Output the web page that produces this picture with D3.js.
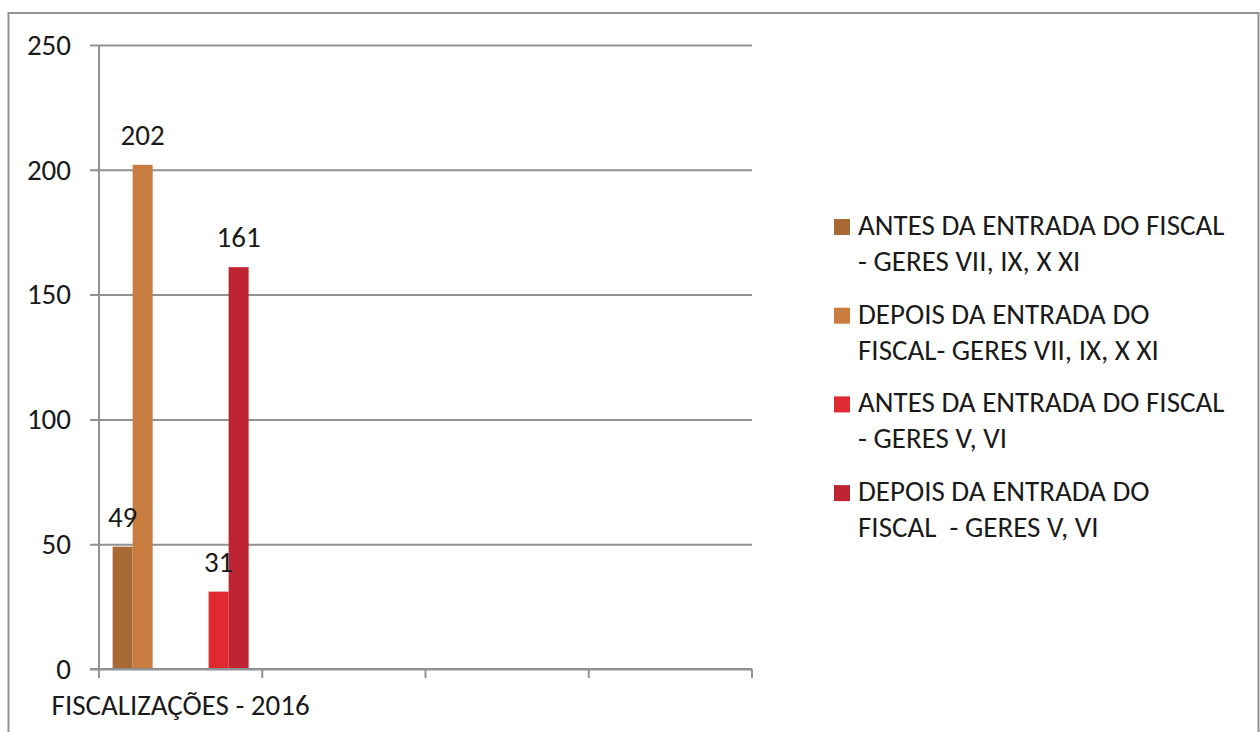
<!DOCTYPE html>
<html>
<head>
<meta charset="utf-8">
<script src="https://cdn.jsdelivr.net/npm/d3@7"></script>
<style>
    body { margin: 0; background: #fff; }
    text { font-family: Carlito, Calibri, "Liberation Sans", sans-serif; fill: #1a1a1a; }
</style>
</head>
<body>
<div id="chart-area"></div>
<script>

// Data
var categories = ["FISCALIZAÇÕES - 2016", "", "", ""];
var regions = ["GERES VII, IX, X XI", "GERES V, VI"];
var phases = ["ANTES", "DEPOIS"];
var seriesNames = [
    "ANTES DA ENTRADA DO FISCAL - GERES VII, IX, X XI",
    "DEPOIS DA ENTRADA DO FISCAL- GERES VII, IX, X XI",
    "ANTES DA ENTRADA DO FISCAL - GERES V, VI",
    "DEPOIS DA ENTRADA DO FISCAL  - GERES V, VI"
];
var seriesRegion = [0, 0, 1, 1];
var seriesPhase = [0, 1, 0, 1];
var seriesValues = [49, 202, 31, 161];   // only the first category has data
var seriesColors = ["#a86a34", "#c97c3f", "#df2a31", "#bf2433"];
var yTicks = [0, 50, 100, 150, 200, 250];


/*
 * BarChart - Object constructor function
 */
BarChart = function(_parentElement){
    this.parentElement = _parentElement;
    this.initVis();
}

BarChart.prototype.initVis = function(){
    var vis = this;

    vis.width = 1260;
    vis.height = 732;
    vis.plot = { left: 99, right: 752, top: 45, bottom: 669 };
    vis.gridColor = "#909193";
    vis.fontSize = 29;

    vis.svg = d3.select("#" + vis.parentElement).append("svg")
        .attr("width", vis.width)
        .attr("height", vis.height);

    // outer chart frame (runs off the bottom of the picture)
    vis.svg.append("rect")
        .attr("x", 8.5).attr("y", 13)
        .attr("width", 1250).attr("height", 800)
        .attr("fill", "none")
        .attr("stroke", "#939393")
        .attr("stroke-width", 2);

    // scales
    vis.y = d3.scaleLinear()
        .domain([0, 250])
        .range([vis.plot.bottom, vis.plot.top]);

    vis.x = d3.scaleBand()
        .domain(d3.range(categories.length))
        .range([vis.plot.left, vis.plot.right])
        .padding(0);

    vis.xRegion = d3.scaleBand()
        .domain(d3.range(regions.length))
        .range([0, vis.x.bandwidth()])
        .paddingInner(0.583)
        .paddingOuter(0.142);

    vis.xPhase = d3.scaleBand()
        .domain(d3.range(phases.length))
        .range([0, vis.xRegion.bandwidth()])
        .padding(0);

    vis.wrangleData();
}

BarChart.prototype.wrangleData = function(){
    var vis = this;

    vis.bars = seriesValues.map(function(v, i){
        return { cat: 0, value: v, region: seriesRegion[i], phase: seriesPhase[i], color: seriesColors[i] };
    });

    vis.updateVis();
}

BarChart.prototype.updateVis = function(){
    var vis = this;

    // y gridlines + labels (gridlines stick out 9px left of the axis)
    var yAxis = d3.axisLeft(vis.y)
        .tickValues(yTicks)
        .tickSize(-(vis.plot.right - vis.plot.left) - 9)
        .tickPadding(19)
        .tickFormat(d3.format("d"));

    var gy = vis.svg.append("g")
        .attr("transform", "translate(" + (vis.plot.left - 9) + ",0)")
        .call(yAxis);
    gy.select(".domain").remove();
    gy.selectAll(".tick line")
        .attr("stroke", vis.gridColor)
        .attr("stroke-width", 2);
    gy.selectAll(".tick text")
        .attr("x", -19)
        .attr("dy", "0.32em")
        .style("font-size", vis.fontSize + "px")
        .style("font-family", "Carlito, Calibri, sans-serif")
        .attr("fill", "#1a1a1a");

    // vertical axis line
    vis.svg.append("line")
        .attr("x1", vis.plot.left).attr("x2", vis.plot.left)
        .attr("y1", vis.y(250)).attr("y2", vis.y(0))
        .attr("stroke", vis.gridColor)
        .attr("stroke-width", 2);

    // bars
    vis.svg.selectAll(".bar")
        .data(vis.bars)
        .enter().append("rect")
        .attr("class", "bar")
        .attr("x", function(d){ return vis.x(d.cat) + vis.xRegion(d.region) + vis.xPhase(d.phase); })
        .attr("width", vis.xPhase.bandwidth())
        .attr("y", function(d){ return vis.y(d.value); })
        .attr("height", function(d){ return vis.y(0) - vis.y(d.value); })
        .attr("fill", function(d){ return d.color; });

    // data labels
    vis.svg.selectAll(".bar-label")
        .data(vis.bars)
        .enter().append("text")
        .attr("class", "bar-label")
        .attr("x", function(d){ return vis.x(d.cat) + vis.xRegion(d.region) + vis.xPhase(d.phase) + vis.xPhase.bandwidth() / 2; })
        .attr("y", function(d){ return vis.y(d.value) - 20; })
        .attr("text-anchor", "middle")
        .style("font-size", vis.fontSize + "px")
        .text(function(d){ return d.value; });

    // x axis (category boundary ticks)
    var xEdges = d3.range(categories.length).map(function(i){ return vis.x(i); }).concat([vis.plot.right]);
    vis.svg.append("line")
        .attr("x1", vis.plot.left - 9).attr("x2", vis.plot.right)
        .attr("y1", vis.y(0)).attr("y2", vis.y(0))
        .attr("stroke", vis.gridColor)
        .attr("stroke-width", 2);
    vis.svg.selectAll(".x-tick")
        .data(xEdges)
        .enter().append("line")
        .attr("class", "x-tick")
        .attr("x1", function(d){ return d; }).attr("x2", function(d){ return d; })
        .attr("y1", vis.y(0)).attr("y2", vis.y(0) + 9)
        .attr("stroke", vis.gridColor)
        .attr("stroke-width", 2);

    vis.svg.selectAll(".x-label")
        .data(categories)
        .enter().append("text")
        .attr("class", "x-label")
        .attr("x", function(d, i){ return vis.x(i) + vis.x.bandwidth() / 2; })
        .attr("y", 715)
        .attr("text-anchor", "middle")
        .style("font-size", vis.fontSize + "px")
        .text(function(d){ return d; });

    // legend
    var legend = vis.svg.append("g").attr("transform", "translate(834,235)");
    var maxWidth = 370;

    seriesNames.forEach(function(name, i){
        var item = legend.append("g").attr("transform", "translate(0," + (i * 88.7) + ")");
        item.append("rect")
            .attr("x", 0).attr("y", -16)
            .attr("width", 16).attr("height", 16)
            .attr("fill", seriesColors[i]);

        // simple word wrap
        var words = name.split(" ");
        var lines = [];
        var line = "";
        var probe = item.append("text").style("font-size", vis.fontSize + "px").style("white-space", "pre");
        words.forEach(function(w){
            var test = line === "" ? w : line + " " + w;
            probe.text(test);
            if (probe.node().getComputedTextLength() > maxWidth && line !== "") {
                lines.push(line);
                line = w;
            } else {
                line = test;
            }
        });
        lines.push(line);
        probe.remove();

        lines.forEach(function(l, j){
            item.append("text")
                .attr("x", 24)
                .attr("y", j * 36)
                .style("font-size", vis.fontSize + "px")
                .style("white-space", "pre")
                .text(l);
        });
    });
}

new BarChart("chart-area");

</script>
</body>
</html>
